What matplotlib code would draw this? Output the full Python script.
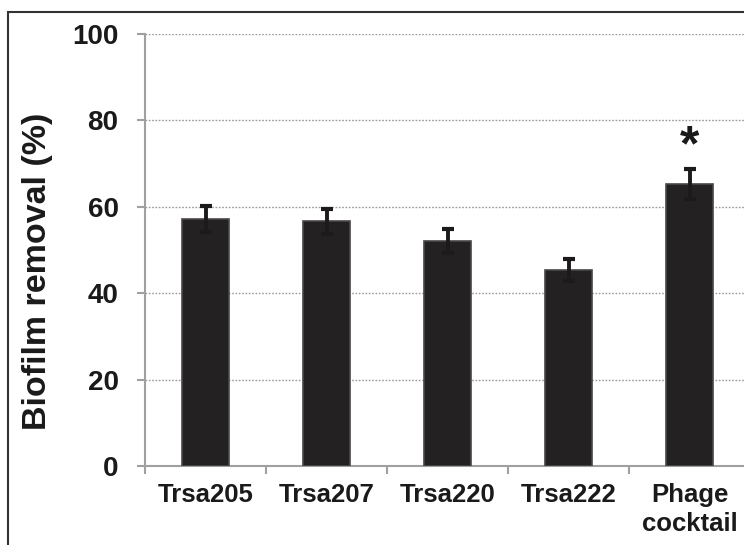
import matplotlib
matplotlib.use("Agg")
import matplotlib.pyplot as plt
from matplotlib.patches import Rectangle
import numpy as np

categories = ["Trsa205", "Trsa207", "Trsa220", "Trsa222", "Phage\ncocktail"]
removal = [57.2, 56.6, 52.1, 45.4, 65.3]
errors = [3.0, 2.8, 2.8, 2.5, 3.4]
yticks = [0, 20, 40, 60, 80, 100]
star_label = "*"

plt.rcParams['font.family'] = ['Liberation Sans', 'DejaVu Sans']

W, H = 744, 545
fig = plt.figure(figsize=(W / 100, H / 100), dpi=100)
left, right, top, bottom = 145, 750, 34, 466
ax = fig.add_axes([left / W, 1 - bottom / H, (right - left) / W, (bottom - top) / H])

x = np.arange(len(categories))
ax.bar(x, removal, width=0.39, color="#242122", edgecolor="#4a4748", linewidth=1.2, zorder=3)
ax.errorbar(x, removal, yerr=errors, fmt="none", ecolor="#1c1a1b", elinewidth=2.8,
            capsize=4.5, capthick=3, zorder=4)

ax.set_xlim(-0.5, len(categories) - 0.5)
ax.set_ylim(0, 100)
ax.set_yticks(yticks)
ax.set_yticklabels([str(v) for v in yticks], fontsize=20, fontweight="bold", color="#1a1a1a")
ax.set_xticks(x)
ax.set_xticklabels(categories, fontsize=18.5, fontweight="bold", color="#1a1a1a", linespacing=1.3)
ax.set_xticks(np.arange(-0.5, len(categories) + 0.5, 1.0), minor=True)
ax.tick_params(axis="x", which="major", length=0, pad=12)
ax.tick_params(axis="x", which="minor", length=6, width=1.5, color="#a0a0a0", direction="out")
ax.tick_params(axis="y", which="major", length=6, width=1.5, color="#a0a0a0", direction="out", pad=13)

ax.grid(axis="y", linestyle=(0, (1.2, 1.2)), color="#9a9a9a", linewidth=1.0, zorder=0)
for s in ["top", "right"]:
    ax.spines[s].set_visible(False)
for s in ["left", "bottom"]:
    ax.spines[s].set_color("#a0a0a0")
    ax.spines[s].set_linewidth(1.5)

ax.set_ylabel("Biofilm removal (%)", fontsize=24.5, fontweight="bold", color="#1a1a1a")
ax.yaxis.set_label_coords(-(145 - 53) / 605, (466 - 271) / 432)

ax.text(x[-1], removal[-1] + errors[-1] + 5.0, star_label, ha="center", va="center",
        fontsize=36, fontweight="bold", color="#1a1a1a")

# outer frame
fig.add_artist(Rectangle((8 / W, -0.2), 1.2, 1 - 12 / H + 0.2, transform=fig.transFigure,
                         fill=False, edgecolor="#333333", linewidth=1.5, clip_on=False))

fig.savefig("out.png", dpi=100)
